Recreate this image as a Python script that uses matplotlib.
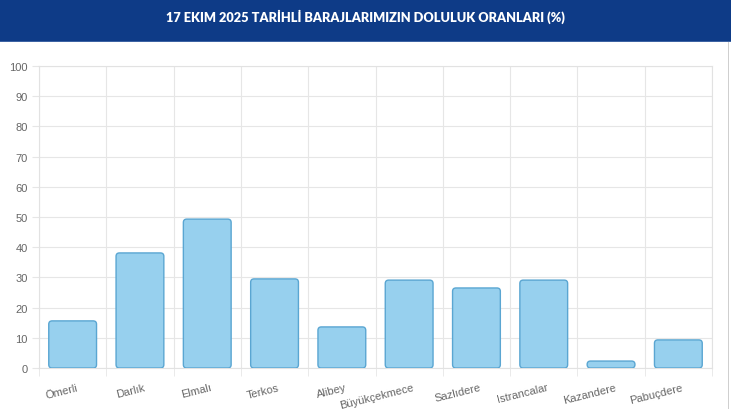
import matplotlib
matplotlib.use("Agg")
import matplotlib.pyplot as plt
from matplotlib.patches import Rectangle, FancyBboxPatch
import numpy as np

# veri: 17 Ekim 2025 baraj doluluk oranlari (%)
barajlar = ["Ömerli", "Darlık", "Elmalı", "Terkos", "Alibey", "Büyükçekmece",
            "Sazlıdere", "Istrancalar", "Kazandere", "Pabuçdere"]
doluluk = [15.6, 38.1, 49.3, 29.5, 13.6, 29.1, 26.5, 29.1, 2.3, 9.3]
y_ticks = list(range(0, 101, 10))
baslik = "17 EKIM 2025 TARİHLİ BARAJLARIMIZIN DOLULUK ORANLARI (%)"

plt.rcParams["font.family"] = ["Liberation Sans", "DejaVu Sans"]

fig = plt.figure(figsize=(7.31, 4.10), dpi=100)
fig.patch.set_facecolor("white")

# ust baslik bandi
fig.patches.append(Rectangle((0, 1 - 42 / 410), 1, 42 / 410, transform=fig.transFigure,
                             facecolor="#0e3b87", edgecolor="none", zorder=0))
fig.patches.append(Rectangle((0, 1 - 43 / 410), 1, 1.5 / 410, transform=fig.transFigure,
                             facecolor="#3d63a3", edgecolor="none", zorder=0))
fig.text(0.5, 1 - 17 / 410, baslik, color="white", fontsize=9.2, fontweight="heavy",
         ha="center", va="center", family=["Lato", "DejaVu Sans"])
# sag kenar cizgisi
fig.patches.append(Rectangle((1 - 3 / 731, 0), 1.2 / 731, 1 - 43 / 410, transform=fig.transFigure,
                             facecolor="#cfcfcf", edgecolor="none"))

ax = fig.add_axes([39 / 731, 41 / 410, (712 - 39) / 731, (369 - 67) / 410])
x = np.arange(len(barajlar))
bars = ax.bar(x, doluluk, width=0.71, color="#97d0ee", edgecolor="#5aa6d2", linewidth=1.0)

# yuvarlatilmis koseler
ax.set_xlim(-0.5, len(barajlar) - 0.5)
ax.set_ylim(0, 100)
for b in bars:
    bx, by = b.get_x(), b.get_y()
    bw, bh = b.get_width(), b.get_height()
    b.set_visible(False)
    fb = FancyBboxPatch((bx, by), bw, bh,
                        boxstyle="round,pad=0,rounding_size=0.05",
                        mutation_aspect=100 / 302 * 67.3 / 1.0,
                        facecolor="#97d0ee", edgecolor="#5aa6d2", linewidth=1.0, zorder=3)
    ax.add_patch(fb)

ax.set_yticks(y_ticks)
ax.set_xticks(x + 0.05)
ax.set_xticklabels(barajlar, rotation=14, ha="right", rotation_mode="anchor")
ax.set_xticks(np.arange(-0.5, len(barajlar), 1), minor=True)
ax.tick_params(axis="x", which="major", length=0, pad=10, labelsize=8, labelcolor="#666666")
ax.tick_params(axis="x", which="minor", length=6, color="#e6e6e6")
ax.tick_params(axis="y", length=5, color="#e6e6e6", labelsize=8, labelcolor="#666666", pad=3)

ax.grid(axis="y", color="#e6e6e6", linewidth=0.8)
ax.grid(axis="x", which="minor", color="#e6e6e6", linewidth=0.8)
ax.set_axisbelow(True)
for s in ax.spines.values():
    s.set_color("#e2e2e2")
    s.set_linewidth(0.8)

fig.savefig("out.png", dpi=100, facecolor="white")
